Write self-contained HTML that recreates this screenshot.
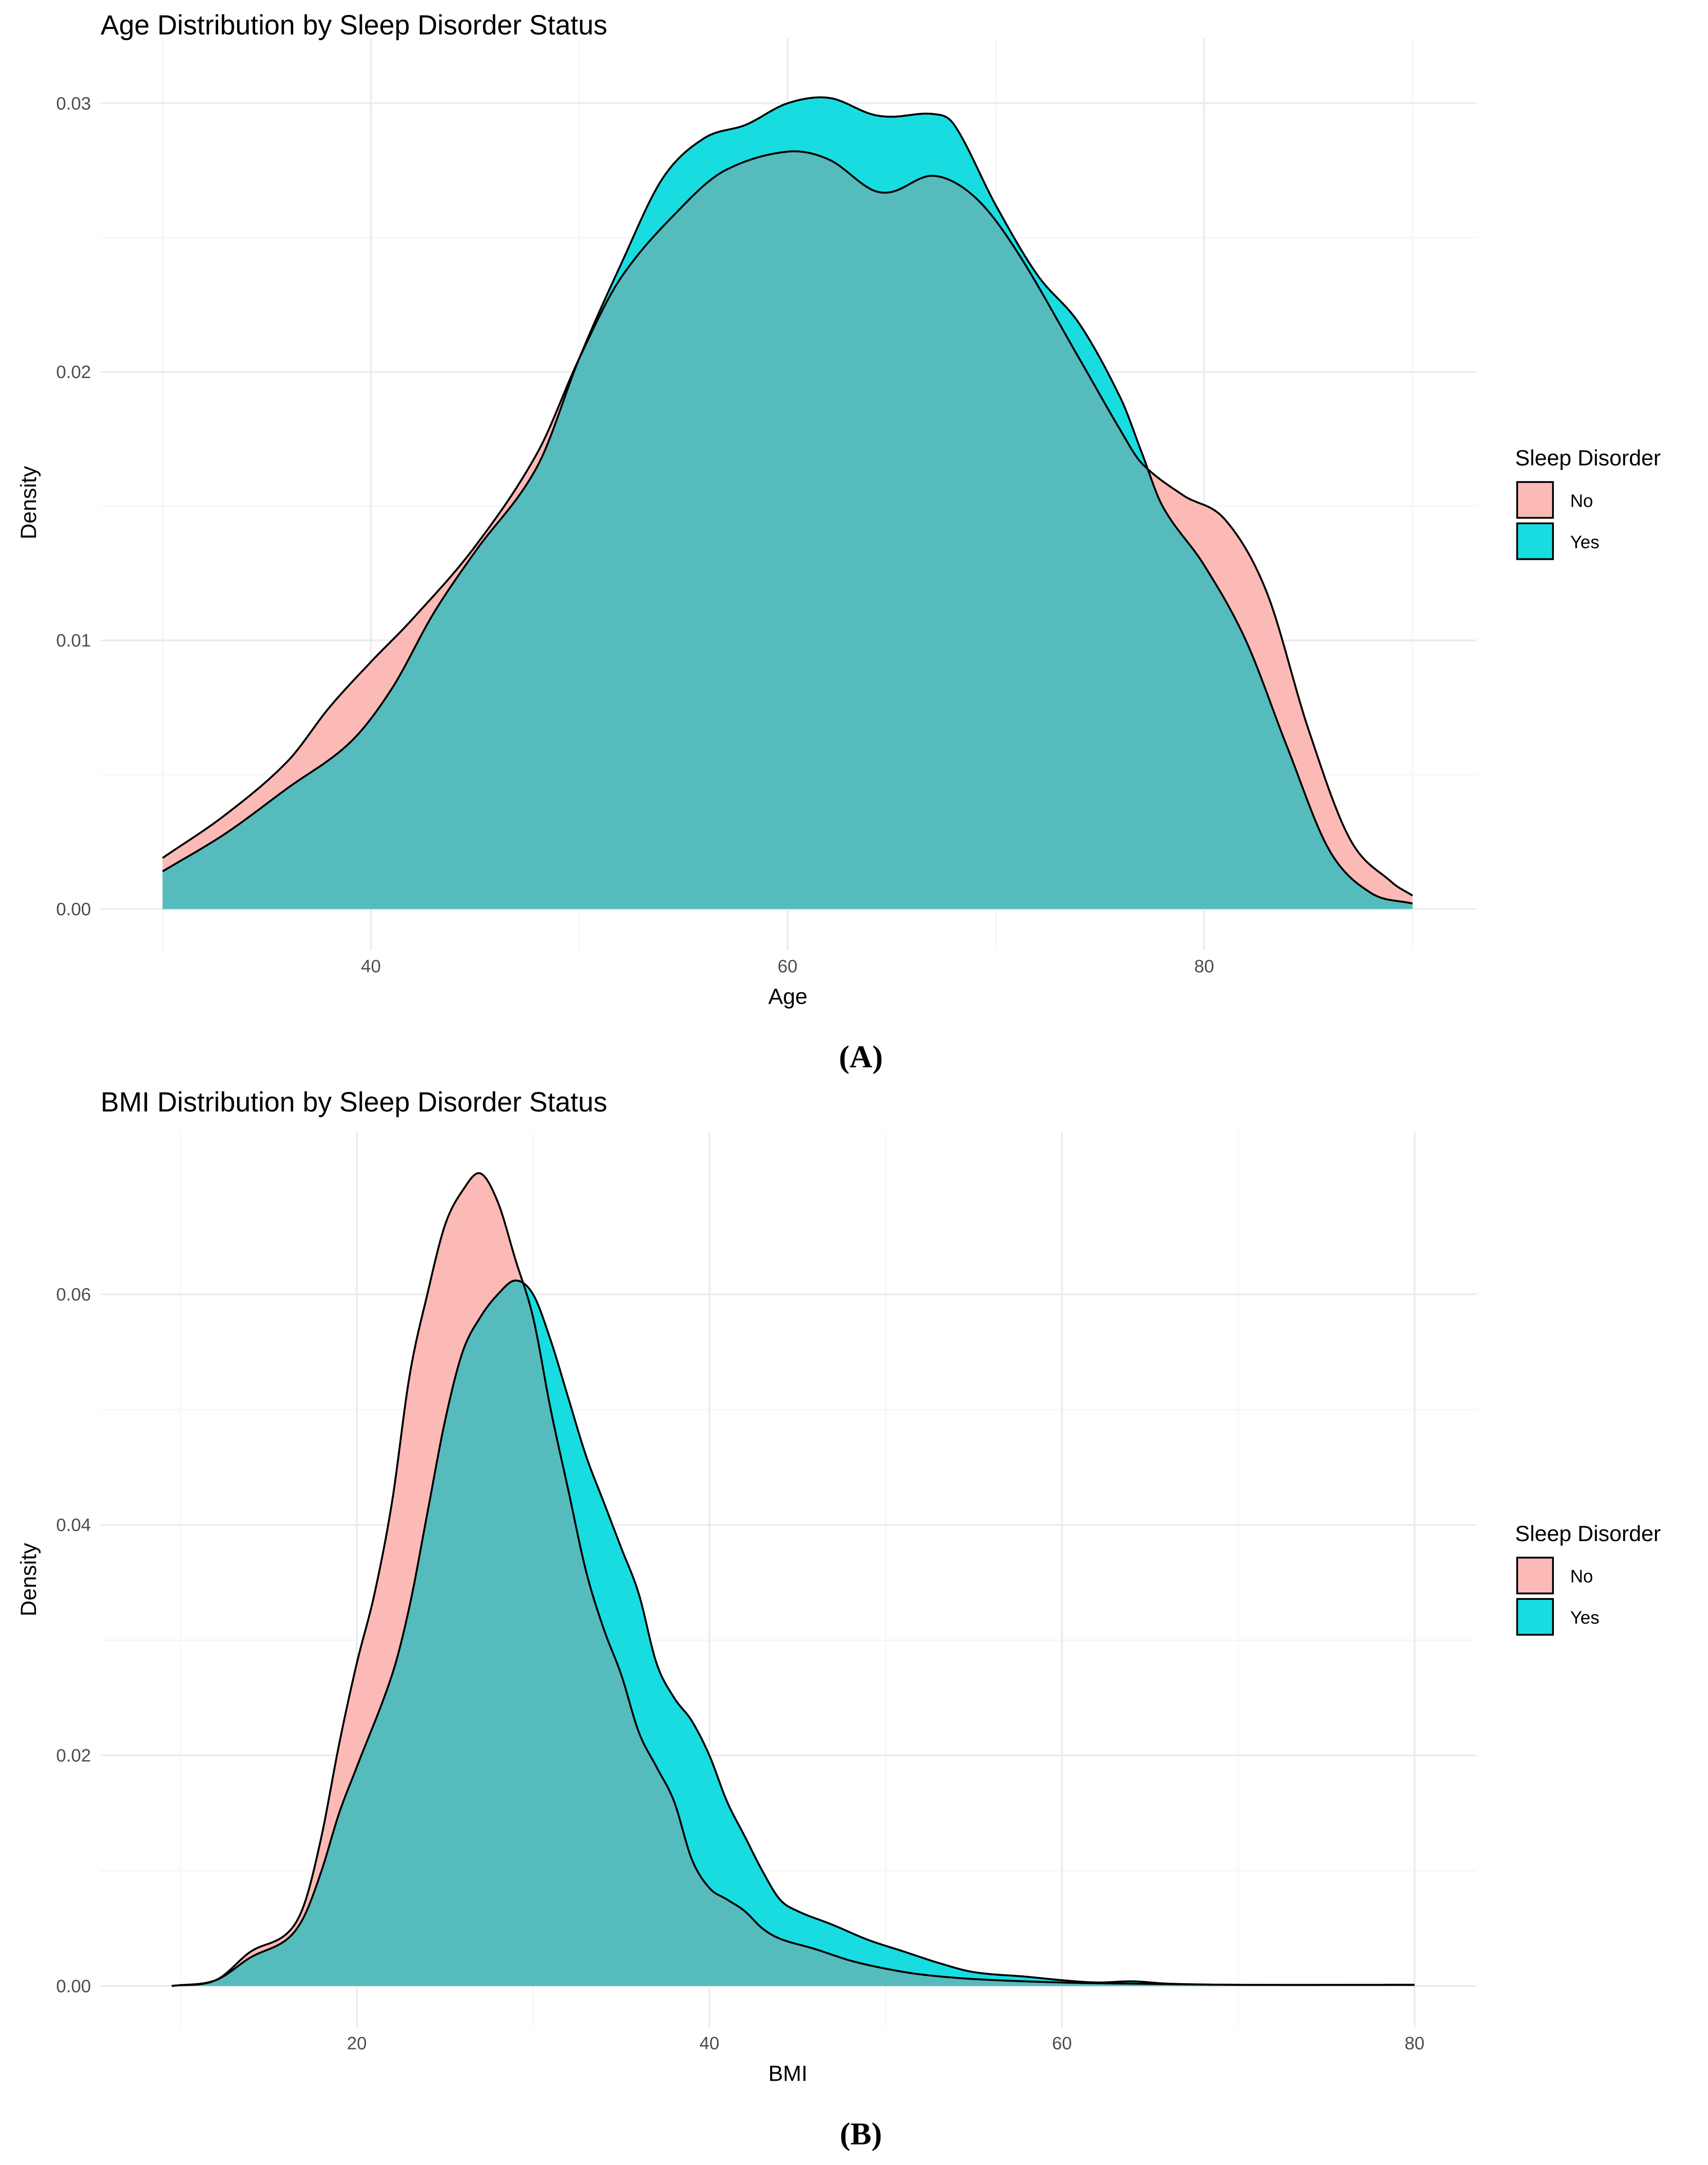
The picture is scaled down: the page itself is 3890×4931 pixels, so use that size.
<!DOCTYPE html>
<html><head><meta charset="utf-8"><style>
html,body{margin:0;padding:0;background:#fff}
svg{display:block}
text{font-family:"Liberation Sans",sans-serif}
text.cap{font-family:"Liberation Serif",serif;font-weight:bold}
</style></head><body>
<svg id="s" width="3890" height="4931" viewBox="0 0 1240 1572" xmlns="http://www.w3.org/2000/svg"></svg>
<script>
const ageX=[30,33,36,38,40,42,45,48,50,52,55,57,60,62,64,65,67,69,71,74,76,77,79,81,83,85,87,89,90];
const ageNo=[0.0019,0.0035,0.0055,0.0075,0.0092,0.0108,0.0135,0.0170,0.0205,0.0235,0.0262,0.0275,0.0282,0.0279,0.0268,0.0267,0.0273,0.0265,0.0245,0.0205,0.0178,0.0166,0.0154,0.0145,0.0118,0.0067,0.0026,0.0010,0.0005];
const ageYesX=[30,33,36,39,41,43,45,48,50,52,54,56,58,60,62,64,65,67,68,70,72,74,76,77,78,80,82,84,86,88,90];
const ageYes=[0.0014,0.0028,0.0045,0.0062,0.0082,0.0110,0.0133,0.0165,0.0205,0.0240,0.0272,0.0287,0.0292,0.0300,0.0302,0.0296,0.0295,0.0296,0.0292,0.0262,0.0236,0.0218,0.0190,0.0170,0.0150,0.0128,0.0100,0.0060,0.0022,0.0006,0.0002];
const bmiNoX=[9.5,12,14,16,17,18,19,20,21,22,23,24,25,26,27,28,29,30,31,32,33,34,35,36,37,38,39,40,41,42,43,44,46,48,50,52,55,60,64,70,80];
const bmiNo=[0,0.0005,0.003,0.0045,0.007,0.013,0.021,0.028,0.034,0.042,0.053,0.060,0.066,0.069,0.0705,0.068,0.063,0.058,0.050,0.043,0.036,0.031,0.027,0.022,0.019,0.016,0.011,0.0085,0.0075,0.0065,0.005,0.0041,0.0032,0.0022,0.0015,0.001,0.0006,0.0003,0.0002,0.0001,0.0001];
const bmiYesX=[9.5,12,14,16,17,18,19,20,22,23,24,25,26,27,28,29,30,31,32,33,34,35,36,37,38,39,40,41,42,43,44,45,47,49,51,53,55,58,60,62,64,66,70,80];
const bmiYes=[0,0.0005,0.0025,0.004,0.006,0.010,0.015,0.019,0.027,0.033,0.041,0.049,0.055,0.058,0.060,0.0612,0.060,0.056,0.051,0.046,0.042,0.038,0.034,0.028,0.025,0.023,0.020,0.016,0.013,0.010,0.0075,0.0065,0.0053,0.0040,0.0030,0.0020,0.0012,0.0008,0.0005,0.0003,0.0004,0.0002,0.0001,0.0001];
const ageTicksX=[40,60,80], ageTicksY=[0,0.01,0.02,0.03];
const bmiTicksX=[20,40,60,80], bmiTicksY=[0,0.02,0.04,0.06];
const NS="http://www.w3.org/2000/svg", S=document.getElementById('s');
function mk(t,a,txt,p){const e=document.createElementNS(NS,t);for(const k in a)e.setAttribute(k,a[k]);if(txt!=null)e.textContent=txt;(p||S).appendChild(e);return e;}
function ev(xs,ys,x){ if(x<=xs[0])return ys[0]; if(x>=xs[xs.length-1])return ys[ys.length-1];
  let i=0;while(xs[i+1]<x)i++;
  const h=xs[i+1]-xs[i],t=(x-xs[i])/h;
  const m=j=>{if(j<=0)return (ys[1]-ys[0])/(xs[1]-xs[0]);if(j>=xs.length-1)return (ys[j]-ys[j-1])/(xs[j]-xs[j-1]);return (ys[j+1]-ys[j-1])/(xs[j+1]-xs[j-1]);};
  const t2=t*t,t3=t2*t;
  return (2*t3-3*t2+1)*ys[i]+(t3-2*t2+t)*h*m(i)+(-2*t3+3*t2)*ys[i+1]+(t3-t2)*h*m(i+1);}
function panel(o){
  const g=mk('g',{});
  const sx=v=>o.x0+(v-o.xa)*o.kx, sy=v=>o.y0-v*o.ky;
  const grid=mk('g',{},null,g);
  o.minX.forEach(v=>mk('line',{x1:sx(v),x2:sx(v),y1:o.top,y2:o.bot,stroke:'#f4f4f4','stroke-width':0.8},null,grid));
  o.minY.forEach(v=>mk('line',{x1:73,x2:1072,y1:sy(v),y2:sy(v),stroke:'#f4f4f4','stroke-width':0.8},null,grid));
  o.tx.forEach(v=>mk('line',{x1:sx(v),x2:sx(v),y1:o.top,y2:o.bot,stroke:'#ebebeb','stroke-width':1.3},null,grid));
  o.ty.forEach(v=>mk('line',{x1:73,x2:1072,y1:sy(v),y2:sy(v),stroke:'#ebebeb','stroke-width':1.3},null,grid));
  const N=600,a=o.xa,b=o.xb,xs=[];for(let i=0;i<=N;i++)xs.push(a+(b-a)*i/N);
  const fN=x=>Math.max(0,ev(o.nx,o.ny,x)), fY=x=>Math.max(0,ev(o.yx,o.yy,x));
  const area=f=>'M'+sx(a)+','+sy(0)+xs.map(x=>'L'+sx(x).toFixed(2)+','+sy(f(x)).toFixed(2)).join('')+'L'+sx(b)+','+sy(0)+'Z';
  const line=f=>'M'+xs.map(x=>sx(x).toFixed(2)+','+sy(f(x)).toFixed(2)).join('L');
  mk('path',{d:area(fN),fill:'#fcbab6',},null,g);
  mk('path',{d:area(fY),fill:'#19dce1',},null,g);
  mk('path',{d:area(x=>Math.min(fN(x),fY(x))),fill:'#56bbbc',},null,g);
  mk('path',{d:line(fN),fill:'none',stroke:'#000','stroke-width':1.4,},null,g);
  mk('path',{d:line(fY),fill:'none',stroke:'#000','stroke-width':1.4,},null,g);
  o.tx.forEach(v=>mk('text',{x:sx(v),y:o.bot+16,'font-size':13,fill:'#4d4d4d','text-anchor':'middle',},String(v),g));
  o.ty.forEach(v=>mk('text',{x:66,y:sy(v)+4.5,'font-size':13,fill:'#4d4d4d','text-anchor':'end',},v.toFixed(2),g));
  mk('text',{x:73,y:o.titleY,'font-size':20,fill:'#000',},o.title,g);
  mk('text',{x:572,y:o.bot+39,'font-size':16,fill:'#000','text-anchor':'middle',},o.xlab,g);
  mk('text',{x:0,y:0,'font-size':16,fill:'#000','text-anchor':'middle',transform:`translate(26,${o.midY}) rotate(-90)`,},'Density',g);
  const L=mk('g',{},null,g);
  mk('text',{x:1100,y:o.legY,'font-size':16,fill:'#000',},'Sleep Disorder',L);
  [['No','#fcbab6'],['Yes','#19dce1']].forEach((d,i)=>{
    mk('rect',{x:1101.5,y:o.legY+12+i*30,width:26,height:26,fill:d[1],stroke:'#000','stroke-width':1.3,},null,L);
    mk('text',{x:1140,y:o.legY+30+i*30,'font-size':13,fill:'#000',},d[0],L);
  });
  mk('text',{x:625,y:o.capY,'font-size':23,'class':'cap',fill:'#000','text-anchor':'middle',},o.cap,g);
}
panel({name:'panel-a',xa:30,xb:90,x0:118,kx:15.125,y0:660,ky:19500,top:28,bot:690,
  tx:ageTicksX,ty:ageTicksY,minX:[30,50,70,90],minY:[0.005,0.015,0.025],nx:ageX,ny:ageNo,yx:ageYesX,yy:ageYes,
  title:'Age Distribution by Sleep Disorder Status',titleY:25,xlab:'Age',midY:365,legY:338,cap:'(A)',capY:775});
panel({name:'panel-b',xa:9.5,xb:80,x0:259-10.5*12.8,kx:12.8,y0:1442,ky:8370,top:822,bot:1472,
  tx:bmiTicksX,ty:bmiTicksY,minX:[10,30,50,70],minY:[0.01,0.03,0.05],nx:bmiNoX,ny:bmiNo,yx:bmiYesX,yy:bmiYes,
  title:'BMI Distribution by Sleep Disorder Status',titleY:807,xlab:'BMI',midY:1147,legY:1119,cap:'(B)',capY:1557});
</script>
</body></html>
